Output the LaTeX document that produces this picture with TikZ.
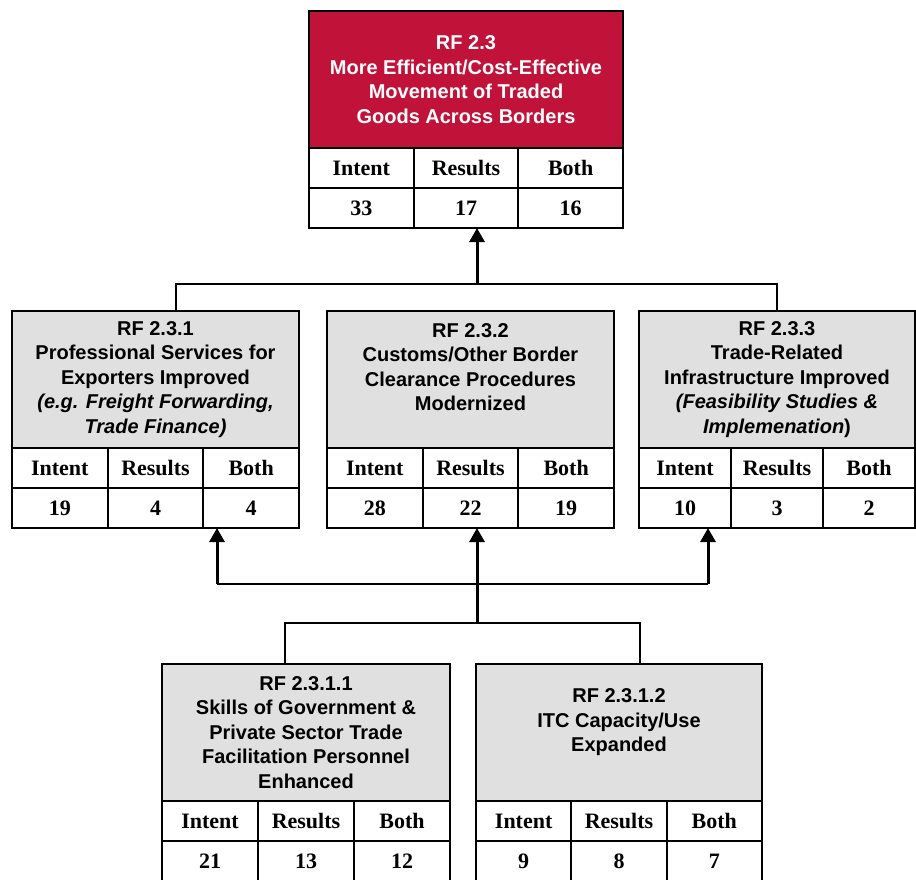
\documentclass[tikz,border=0pt]{standalone}
\usepackage{fontspec}
\setmainfont{Liberation Serif}
\newfontfamily\headfont{Liberation Sans}
\usepackage{tikz}
\usetikzlibrary{arrows.meta}
\definecolor{rfred}{RGB}{193,18,58}
\definecolor{rfgray}{RGB}{224,224,224}

% one result box: title block and a 2x3 table of counts under it
% #1 name, #2 top left, #3 width, #4 title style, #5 title, #6-#8 counts
\newcommand{\rfbox}[8]{%
	\node[#4, minimum width=#3, anchor=north west] (#1) at #2 {#5};
	\node[cell, minimum width=#3/3, anchor=north west] (#1-1) at (#1.south west) {Intent};
	\node[cell, minimum width=#3/3, anchor=north west] (#1-2) at (#1-1.north east) {Results};
	\node[cell, minimum width=#3/3, anchor=north west] (#1-3) at (#1-2.north east) {Both};
	\node[cell, minimum width=#3/3, anchor=north west] (#1-1v) at (#1-1.south west) {#6};
	\node[cell, minimum width=#3/3, anchor=north west] (#1-2v) at (#1-2.south west) {#7};
	\node[cell, minimum width=#3/3, anchor=north west] (#1-3v) at (#1-3.south west) {#8};
}

\begin{document}
\begin{tikzpicture}[x=1pt, y=-1pt,
		title/.style={draw, line width=1.8pt, outer sep=0pt, inner sep=2pt,
			minimum height=137pt, align=center,
			font=\headfont\bfseries\fontsize{20}{24.5}\selectfont},
		redtitle/.style={title, fill=rfred, text=white},
		graytitle/.style={title, fill=rfgray},
		cell/.style={draw, line width=1.8pt, outer sep=0pt, inner sep=0pt,
			minimum height=40pt, font=\bfseries\fontsize{22}{24}\selectfont},
		link/.style={line width=2pt},
		arrowlink/.style={line width=3pt, -{Triangle[width=15pt,length=14pt]}}]
	\useasboundingbox (0,0) rectangle (916,880);
	\clip (0,0) rectangle (916,880);

	\rfbox{top}{(309,11)}{314pt}{redtitle}{RF 2.3\\More Efficient/Cost-Effective\\Movement of Traded\\Goods Across Borders}{33}{17}{16}

	\rfbox{mid1}{(12,311)}{287pt}{graytitle}{RF 2.3.1\\Professional Services for\\Exporters Improved\\\textit{(e.g. Freight Forwarding,}\\\textit{Trade Finance)}}{19}{4}{4}
	\rfbox{mid2}{(327,311)}{287pt}{graytitle}{RF 2.3.2\\Customs/Other Border\\Clearance Procedures\\Modernized\\\mbox{}}{28}{22}{19}
	\rfbox{mid3}{(639,311)}{276pt}{graytitle}{RF 2.3.3\\Trade-Related\\Infrastructure Improved\\\textit{(Feasibility Studies \&}\\\textit{Implemenation})}{10}{3}{2}

	\rfbox{bot1}{(162,664)}{288pt}{graytitle}{RF 2.3.1.1\\Skills of Government \&\\Private Sector Trade\\Facilitation Personnel\\Enhanced}{21}{13}{12}
	\rfbox{bot2}{(476,664)}{286pt}{graytitle}{RF 2.3.1.2\\ITC Capacity/Use\\Expanded\\\mbox{}}{9}{8}{7}

	% junctions
	\coordinate (up1) at (477,284);
	\coordinate (midl) at (217,584);
	\coordinate (midr) at (708,584);
	\coordinate (low1) at (477,623);

	% second level up to 2.3
	\draw[link] ([xshift=20.5pt]mid1.north) |- (up1) -| (mid3.north);
	\draw[arrowlink] (up1) -- (up1 |- top-2v.south);

	% third level up to 2.3.x
	\draw[link] ([xshift=-21pt]bot1.north) |- (low1) -| ([xshift=21pt]bot2.north);
	\draw[arrowlink] (low1) -- (low1 |- mid2-2v.south);
	\draw[link] (midl) -- (midr);
	\draw[arrowlink] (midl) -- (midl |- mid1-3v.south);
	\draw[arrowlink] (midr) -- (midr |- mid3-1v.south);
\end{tikzpicture}
\end{document}
